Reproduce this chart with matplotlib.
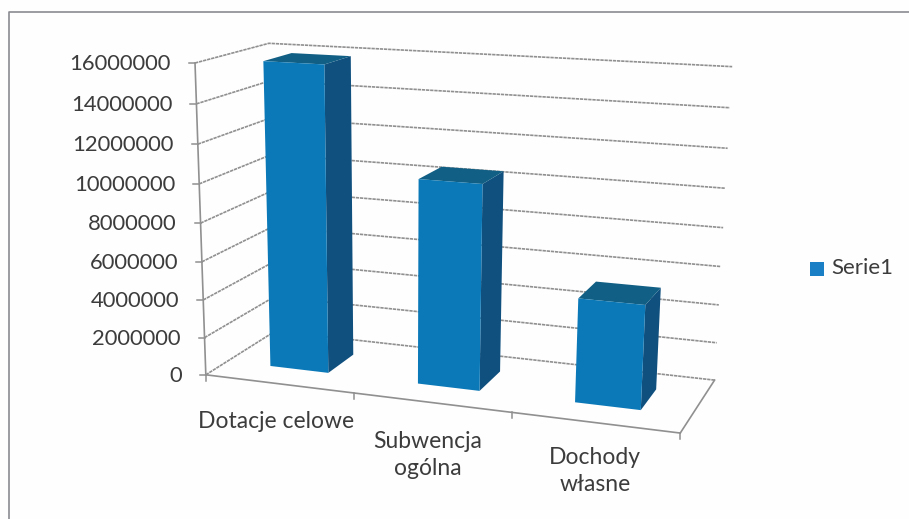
import numpy as np
import matplotlib
matplotlib.use('Agg')
import matplotlib.pyplot as plt
from matplotlib.patches import Polygon

plt.rcParams['font.family'] = ['Lato', 'DejaVu Sans']

# values
categories = ['Dotacje celowe', 'Subwencja\nogólna', 'Dochody\nwłasne']
values = [15900000, 10550000, 5300000]
y_ticks = [0, 2000000, 4000000, 6000000, 8000000, 10000000, 12000000, 14000000, 16000000]
series_name = 'Serie1'

front_color = '#0b79b8'
side_color = '#10507f'
top_color = '#115f84'
grid_color = '#909090'
text_color = '#3c3c3c'

# corners of the 3d box (category, depth, value/16M) and where they land in pixels
box = [(0, 0, 0), (0, 0, 1), (0, 1, 1), (0, 1, 0), (3, 1, 0), (3, 1, 1), (3, 0, 0)]
pix = [(207, 373), (194, 63), (270, 43), (274, 333), (715, 378), (732, 67), (680, 435)]

# fit the perspective camera matrix
rows = []
for (X, Y, Z), (u, v) in zip(box, pix):
    rows.append([X, Y, Z, 1, 0, 0, 0, 0, -u*X, -u*Y, -u*Z, -u])
    rows.append([0, 0, 0, 0, X, Y, Z, 1, -v*X, -v*Y, -v*Z, -v])
cam = np.linalg.svd(np.array(rows, dtype=float))[2][-1].reshape(3, 4)


def project(c, d, val):
    p = cam @ np.array([c, d, val / max(y_ticks), 1.0])
    return p[0] / p[2], p[1] / p[2]


fig = plt.figure(figsize=(9.09, 5.19), dpi=100, facecolor='#fefefe')
ax = fig.add_axes([0, 0, 1, 1])
ax.set_xlim(0, 909)
ax.set_ylim(519, 0)
ax.axis('off')

# outer chart border, runs off the scan on the right and bottom
ax.plot([9, 9, 909], [519, 12, 12], color='#8a8a92', lw=1.2)

# gridlines on the two walls
for t in y_ticks:
    pts = [project(0, 0, t), project(0, 1, t), project(3, 1, t)]
    ax.plot([p[0] for p in pts], [p[1] for p in pts], color=grid_color, lw=1.2, ls=(0, (2, 0.5)))
    x0, y0 = project(0, 0, t)
    ax.plot([x0 - 6, x0], [y0, y0], color=grid_color, lw=1.1)
    ax.text(x0 - 24, y0 + 1, str(t), ha='right', va='center', fontsize=15.8, color=text_color)

# value axis and floor edges
for a, b in [((0, 0, 0), (0, 0, 16000000)), ((0, 0, 0), (3, 0, 0)), ((3, 0, 0), (3, 1, 0))]:
    pa, pb = project(*a), project(*b)
    ax.plot([pa[0], pb[0]], [pa[1], pb[1]], color=grid_color, lw=1.2)

for c in range(4):
    x0, y0 = project(c, 0, 0)
    ax.plot([x0, x0], [y0, y0 + 6], color=grid_color, lw=1.1)

# bars
bar_l, bar_r = 0.3, 0.7
depth_f, depth_b = 0.3, 0.7
for i, val in enumerate(values):
    l, r = i + bar_l, i + bar_r
    side = [project(r, depth_f, 0), project(r, depth_b, 0), project(r, depth_b, val), project(r, depth_f, val)]
    top = [project(l, depth_f, val), project(r, depth_f, val), project(r, depth_b, val), project(l, depth_b, val)]
    front = [project(l, depth_f, 0), project(r, depth_f, 0), project(r, depth_f, val), project(l, depth_f, val)]
    ax.add_patch(Polygon(side, fc=side_color, ec='none', zorder=3))
    ax.add_patch(Polygon(top, fc=top_color, ec='none', zorder=3))
    ax.add_patch(Polygon(front, fc=front_color, ec='none', zorder=4))

# category labels sit under the front edge
label_pos = [(276, 421), (428, 455), (595, 471)]
for name, (lx, ly) in zip(categories, label_pos):
    ax.text(lx, ly, name, ha='center', va='center', fontsize=16.5, color=text_color, linespacing=1.3)

# legend
ax.add_patch(Polygon([(810, 261.5), (824, 261.5), (824, 276), (810, 276)], fc='#1a7fc4', ec='none'))
ax.text(831, 268, series_name, ha='left', va='center', fontsize=16, color=text_color)

fig.savefig('out.png', dpi=100, facecolor=fig.get_facecolor())
